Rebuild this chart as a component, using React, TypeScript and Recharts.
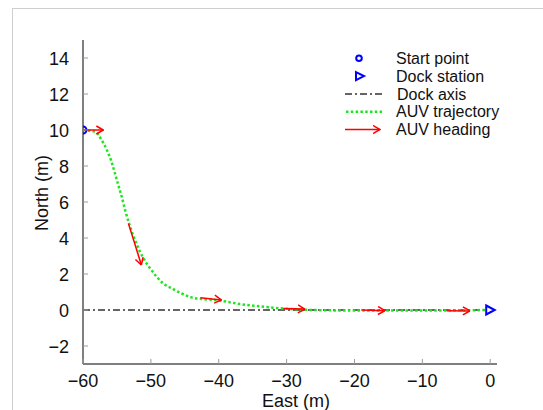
import { type ReactElement } from 'react'
import {
  ComposedChart,
  Line,
  Scatter,
  XAxis,
  YAxis,
  Legend,
  Label,
} from 'recharts'

// trajectory of the AUV (east, north in metres)
const TRAJ_EAST = [
  -60, -58.2, -57.25, -56.5, -55.8, -55.3, -54.8, -54.3, -53.8, -53.2, -52.2,
  -51.1, -50.1, -49.15, -48.2, -46.9, -45.5, -44.0, -42.5, -40.8, -38.8, -36.9,
  -34.4, -32.0, -30.0, -27, -20, -10, 0,
]
const TRAJ_NORTH = [
  10, 9.9, 9.44, 8.9, 8.24, 7.6, 6.94, 6.3, 5.56, 4.8, 3.75,
  2.87, 2.31, 1.85, 1.48, 1.2, 0.92, 0.7, 0.61, 0.56, 0.46, 0.33,
  0.22, 0.13, 0.07, 0.01, -0.03, -0.03, 0,
]

// heading arrows: start -> end
const HEAD_FROM_EAST = [-60, -53.3, -42.7, -30.5, -19.0, -6.4]
const HEAD_FROM_NORTH = [10, 4.8, 0.68, 0.09, 0, -0.04]
const HEAD_TO_EAST = [-57.0, -51.4, -39.6, -27.3, -15.5, -3.0]
const HEAD_TO_NORTH = [10, 2.5, 0.56, 0.05, -0.04, -0.05]

const DOCK_AXIS_EAST = [-60, 1]
const DOCK_AXIS_NORTH = [0, 0]

const START_POINT = [{ x: -60, y: 10 }]
const DOCK_STATION = [{ x: 0, y: 0 }]

const X_TICKS = [-60, -50, -40, -30, -20, -10, 0]
const Y_TICKS = [-2, 0, 2, 4, 6, 8, 10, 12, 14]

const LEGEND_NAMES = ['Start point', 'Dock station', 'Dock axis', 'AUV trajectory', 'AUV heading']

const FONT = "Arial, 'Liberation Sans', Helvetica, sans-serif"
const BLUE = '#0000ff'
const GREEN = '#1ee61e'
const RED = '#ff0000'

const trajectory = TRAJ_EAST.map((x, i) => ({ x, y: TRAJ_NORTH[i] }))
const dockAxis = DOCK_AXIS_EAST.map((x, i) => ({ x, y: DOCK_AXIS_NORTH[i] }))
const headings = HEAD_FROM_EAST.map((x, i) => [
  { x, y: HEAD_FROM_NORTH[i] },
  { x: HEAD_TO_EAST[i], y: HEAD_TO_NORTH[i] },
])

const fmt = (v: number) => (v < 0 ? '\u2212' + Math.abs(v) : String(v))

function XTick(props: any): ReactElement {
  const { x, y, payload } = props
  return (
    <g>
      <line x1={x} y1={y} x2={x} y2={y - 5} stroke="#9a9a9a" />
      <text x={x} y={y + 22.5} textAnchor="middle" fontSize={18} fontFamily={FONT} fill="#111">
        {fmt(payload.value)}
      </text>
    </g>
  )
}

function YTick(props: any): ReactElement {
  const { x, y, payload } = props
  return (
    <g>
      <line x1={x} y1={y} x2={x + 5} y2={y} stroke="#9a9a9a" />
      <text x={x - 14} y={y + 6.5} textAnchor="end" fontSize={18} fontFamily={FONT} fill="#111">
        {fmt(payload.value)}
      </text>
    </g>
  )
}

function StartMarker(props: any): ReactElement {
  return <circle cx={props.cx} cy={props.cy} r={3.5} fill="none" stroke={BLUE} strokeWidth={2} />
}

function DockMarker(props: any): ReactElement {
  const { cx, cy } = props
  return (
    <polygon
      points={`${cx - 4},${cy - 4.5} ${cx + 4.5},${cy} ${cx - 4},${cy + 4.5}`}
      fill="#ffffff"
      stroke={BLUE}
      strokeWidth={2}
    />
  )
}

function LegendBox(): ReactElement {
  const rowH = 17.8
  return (
    <svg width={190} height={100} style={{ display: 'block' }}>
      {LEGEND_NAMES.map((name, i) => {
        const cy = 13.3 + i * rowH
        let sample: ReactElement
        if (i === 0) sample = <circle cx={19} cy={cy} r={2.8} fill="none" stroke={BLUE} strokeWidth={2} />
        else if (i === 1)
          sample = (
            <polygon
              points={`${16},${cy - 4} ${24},${cy} ${16},${cy + 4}`}
              fill="#ffffff"
              stroke={BLUE}
              strokeWidth={2}
            />
          )
        else if (i === 2)
          sample = <line x1={5} x2={42} y1={cy} y2={cy} stroke="#333" strokeWidth={1.5} strokeDasharray="7 3 2 3" />
        else if (i === 3)
          sample = <line x1={6} x2={42} y1={cy} y2={cy} stroke={GREEN} strokeWidth={2.5} strokeDasharray="2.5 2.3" />
        else
          sample = <line x1={5} x2={40} y1={cy} y2={cy} stroke={RED} strokeWidth={1.5} markerEnd="url(#auvArrow)" />
        return (
          <g key={name}>
            {sample}
            <text x={i === 2 ? 57 : 56} y={cy + 5.7} fontSize={16} fontFamily={FONT} fill="#111">
              {name}
            </text>
          </g>
        )
      })}
    </svg>
  )
}

export default function App(): ReactElement {
  return (
    <div style={{ position: 'absolute', left: 0, top: 0, width: 543, height: 410, background: '#fff' }}>
      <svg width={0} height={0} style={{ position: 'absolute' }}>
        <defs>
          <marker
            id="auvArrow"
            viewBox="0 0 8 10"
            refX={7.5}
            refY={5}
            markerWidth={8}
            markerHeight={10}
            markerUnits="userSpaceOnUse"
            orient="auto"
          >
            <path d="M0.5,1 L7.5,5 L0.5,9" fill="none" stroke={RED} strokeWidth={1.5} />
          </marker>
        </defs>
      </svg>
      <div
        style={{
          position: 'absolute',
          left: 12,
          top: 8,
          right: 0,
          bottom: 0,
          borderLeft: '1px solid #cfcfcf',
          borderTop: '1px solid #cfcfcf',
        }}
      />
      <div style={{ position: 'absolute', left: 0, top: 0 }}>
        <ComposedChart width={543} height={410} margin={{ top: 40, right: 46, bottom: 0, left: 0 }}>
          <XAxis
            type="number"
            dataKey="x"
            domain={[-60, 1]}
            ticks={X_TICKS}
            allowDataOverflow
            height={46}
            tickSize={0}
            tickMargin={0}
            tickLine={false}
            axisLine={{ stroke: '#555', strokeWidth: 1.5 }}
            tick={<XTick />}
          >
            <Label
              content={() => (
                <text x={296} y={407} textAnchor="middle" fontSize={18} fontFamily={FONT} fill="#111">
                  East (m)
                </text>
              )}
            />
          </XAxis>
          <YAxis
            type="number"
            dataKey="y"
            domain={[-3, 15]}
            ticks={Y_TICKS}
            allowDataOverflow
            width={83}
            tickSize={0}
            tickMargin={0}
            tickLine={false}
            axisLine={{ stroke: '#555', strokeWidth: 1.5 }}
            tick={<YTick />}
          >
            <Label
              content={() => (
                <text
                  x={47.5}
                  y={193}
                  transform="rotate(-90 47.5 193)"
                  textAnchor="middle"
                  fontSize={18}
                  fontFamily={FONT}
                  fill="#111"
                >
                  North (m)
                </text>
              )}
            />
          </YAxis>
          <Legend
            layout="vertical"
            align="center"
            verticalAlign="middle"
            content={() => <LegendBox />}
            wrapperStyle={{ left: 340, top: 45, width: 190 }}
          />
          <Line
            data={dockAxis}
            dataKey="y"
            type="linear"
            stroke="#333"
            strokeWidth={1.5}
            strokeDasharray="7 3 2 3"
            dot={false}
            activeDot={false}
            isAnimationActive={false}
          />
          <Line
            data={trajectory}
            dataKey="y"
            type="monotone"
            stroke={GREEN}
            strokeWidth={2.5}
            strokeDasharray="2.5 2.3"
            dot={false}
            activeDot={false}
            isAnimationActive={false}
          />
          {headings.map((seg, i) => (
            <Line
              key={'h' + i}
              data={seg}
              dataKey="y"
              type="linear"
              stroke={RED}
              strokeWidth={1.5}
              markerEnd="url(#auvArrow)"
              dot={false}
              activeDot={false}
              isAnimationActive={false}
            />
          ))}
          <Scatter data={DOCK_STATION} dataKey="y" shape={<DockMarker />} isAnimationActive={false} />
          <Scatter data={START_POINT} dataKey="y" shape={<StartMarker />} isAnimationActive={false} />
        </ComposedChart>
      </div>
    </div>
  )
}
